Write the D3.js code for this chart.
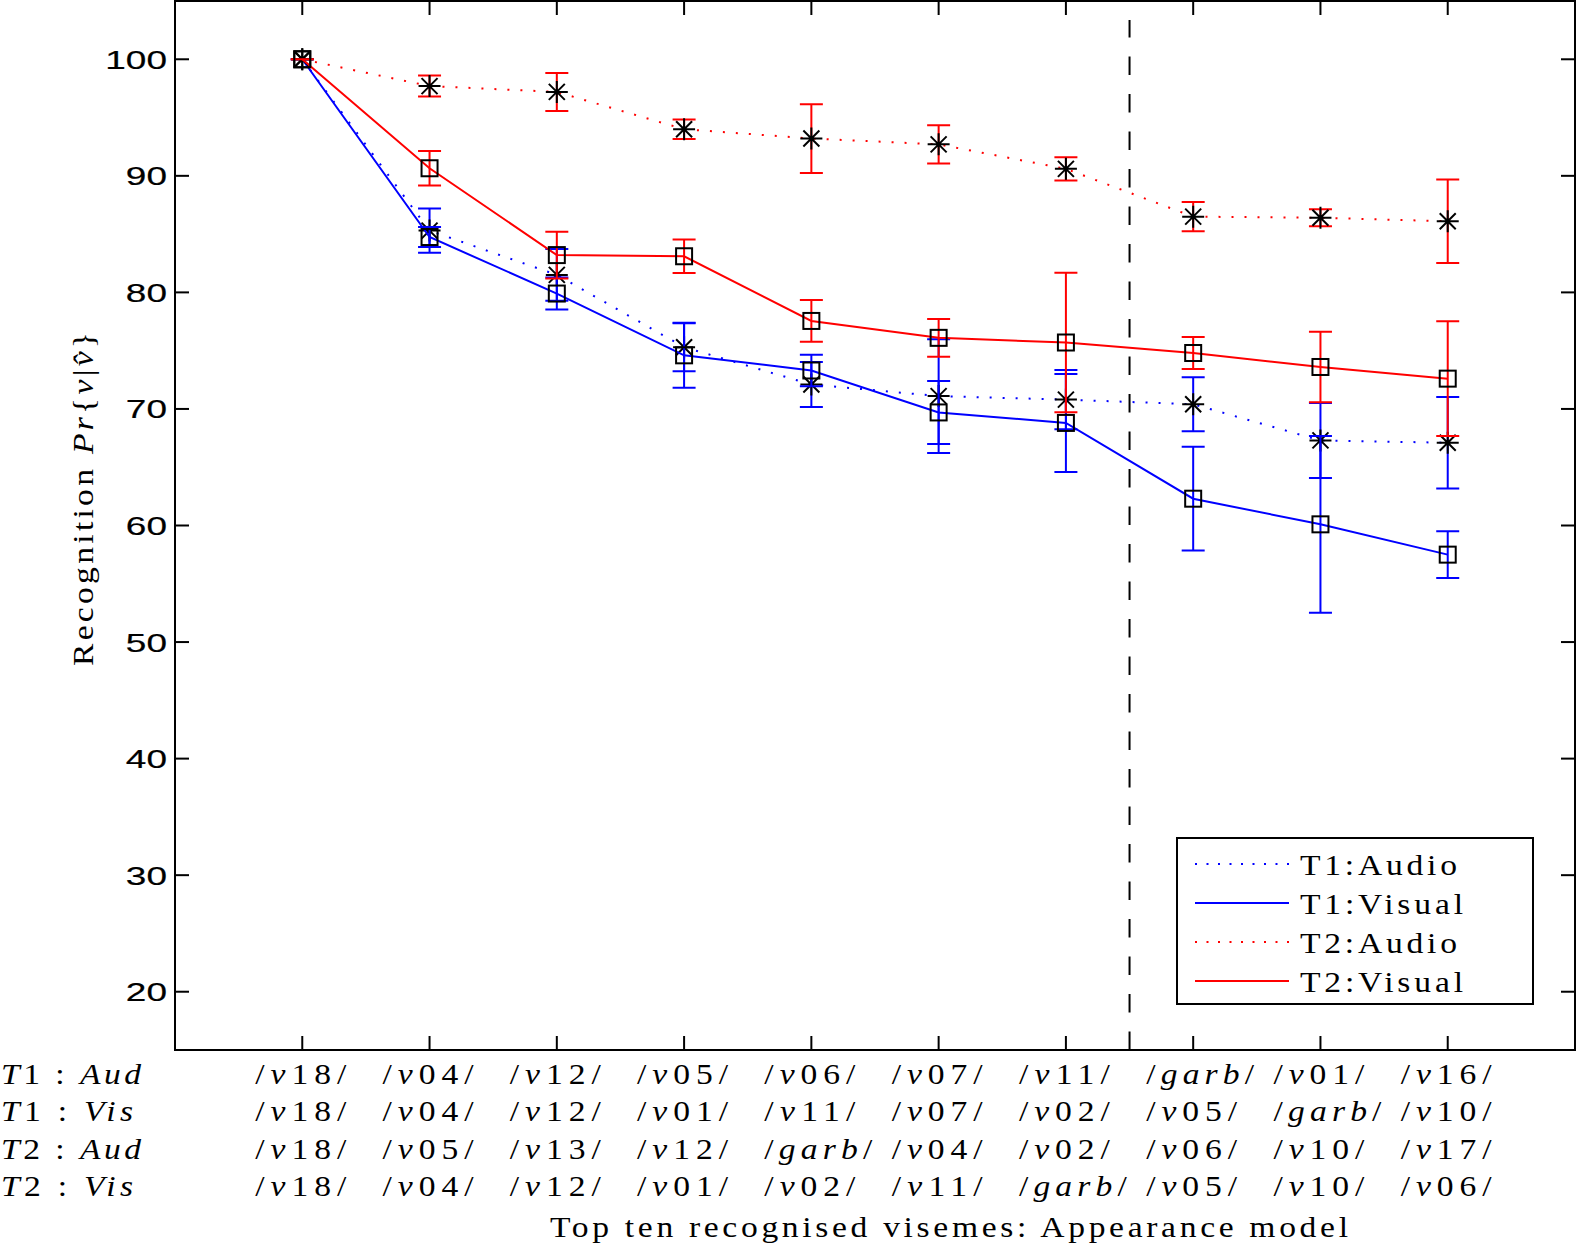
<!DOCTYPE html>
<html><head><meta charset="utf-8">
<script src="https://cdn.jsdelivr.net/npm/d3@7/dist/d3.min.js"></script>
<style>body{margin:0;background:#fff}svg{display:block}</style>
</head><body><div id="chart"></div>
<script>
const positions = [1,2,3,4,5,6,7,8,9,10];
const rowNames = ["T1 : Aud","T1 : Vis","T2 : Aud","T2 : Vis"];
const rowT1Aud = ["/v18/","/v04/","/v12/","/v05/","/v06/","/v07/","/v11/","/garb/","/v01/","/v16/"];
const rowT1Vis = ["/v18/","/v04/","/v12/","/v01/","/v11/","/v07/","/v02/","/v05/","/garb/","/v10/"];
const rowT2Aud = ["/v18/","/v05/","/v13/","/v12/","/garb/","/v04/","/v02/","/v06/","/v10/","/v17/"];
const rowT2Vis = ["/v18/","/v04/","/v12/","/v01/","/v02/","/v11/","/garb/","/v05/","/v10/","/v06/"];
const t1Audio     = [100, 85.3, 81.5, 75.3, 72.1, 71.1, 70.8, 70.4, 67.3, 67.1];
const t1AudioErr  = [0, 1.9, 2.22, 2.06, 1.93, 4.89, 2.55, 2.32, 3.22, 3.93];
const t1Visual    = [100, 84.75, 79.9, 74.6, 73.3, 69.7, 68.8, 62.3, 60.1, 57.5];
const t1VisualErr = [0, 0.86, 1.37, 2.79, 1.36, 2.7, 4.2, 4.45, 7.58, 2.0];
const t2Audio     = [100, 97.7, 97.2, 94.0, 93.2, 92.7, 90.6, 86.5, 86.4, 86.1];
const t2AudioErr  = [0, 0.9, 1.63, 0.83, 2.95, 1.64, 0.99, 1.26, 0.73, 3.58];
const t2Visual    = [100, 90.65, 83.2, 83.1, 77.55, 76.1, 75.7, 74.8, 73.6, 72.6];
const t2VisualErr = [0, 1.49, 2.0, 1.44, 1.79, 1.62, 5.99, 1.38, 3.03, 4.93];
const yTicks = [20,30,40,50,60,70,80,90,100];
const seriesNames = ["T1:Audio","T1:Visual","T2:Audio","T2:Visual"];
const dividerAt = 7.5;
const xLabel = "Top ten recognised visemes: Appearance model";

const W = 1577, H = 1245;
const L = 175, R = 1575, T = 1, B = 1050;
const svg = d3.select("#chart").append("svg").attr("width", W).attr("height", H);
const x = d3.scaleLinear().domain([0, 11]).range([L, R]);
const y = d3.scaleLinear().domain([15, 105]).range([B, T]);
const serif = "'Liberation Serif', 'DejaVu Serif', serif";
const SX = 1.12;

function serifText(parent, px, py, len, rot) {
  const tr = rot ? `translate(${px},${py}) rotate(-90) scale(${SX},1)` : `translate(${px},${py}) scale(${SX},1)`;
  return parent.append("text").attr("transform", tr)
    .attr("font-family", serif).attr("font-size", 30)
    .attr("textLength", len / SX).attr("lengthAdjust", "spacing");
}

const series = [
  {name: seriesNames[0], v: t1Audio, e: t1AudioErr, color: "#0000ff", dotted: true, marker: "star"},
  {name: seriesNames[1], v: t1Visual, e: t1VisualErr, color: "#0000ff", dotted: false, marker: "square"},
  {name: seriesNames[2], v: t2Audio, e: t2AudioErr, color: "#ff0000", dotted: true, marker: "star"},
  {name: seriesNames[3], v: t2Visual, e: t2VisualErr, color: "#ff0000", dotted: false, marker: "square"}
];

// divider
svg.append("line").attr("x1", x(dividerAt)).attr("x2", x(dividerAt))
  .attr("y1", B).attr("y2", T + 19).attr("stroke", "#000").attr("stroke-width", 2)
  .attr("stroke-dasharray", "18.5 19");

const line = d3.line().x((d, i) => x(positions[i])).y(d => y(d));
const capW = 11.5;
function drawMarker(g, type, cx, cy) {
  if (type === "square") {
    g.append("rect").attr("x", cx - 8).attr("y", cy - 8).attr("width", 16).attr("height", 16)
      .attr("fill", "none").attr("stroke", "#000").attr("stroke-width", 2);
  } else {
    const r = 11, d = 8;
    const p = `M${cx},${cy-r}L${cx},${cy+r}M${cx-r},${cy}L${cx+r},${cy}M${cx-d},${cy-d}L${cx+d},${cy+d}M${cx-d},${cy+d}L${cx+d},${cy-d}`;
    g.append("path").attr("d", p).attr("stroke", "#000").attr("stroke-width", 2).attr("fill", "none");
  }
}
series.forEach(s => {
  const g = svg.append("g");
  g.append("path").attr("d", line(s.v)).attr("fill", "none").attr("stroke", s.color)
    .attr("stroke-width", 2).attr("stroke-dasharray", s.dotted ? "2 11" : null);
  s.v.forEach((v, i) => {
    const cx = x(positions[i]), y1 = y(v + s.e[i]), y2 = y(v - s.e[i]);
    g.append("path").attr("d", `M${cx},${y1}L${cx},${y2}M${cx-capW},${y1}L${cx+capW},${y1}M${cx-capW},${y2}L${cx+capW},${y2}`)
      .attr("stroke", s.color).attr("stroke-width", 2).attr("fill", "none");
  });
  s.v.forEach((v, i) => drawMarker(g, s.marker, x(positions[i]), y(v)));
});

// axes box and ticks
const ax = svg.append("g");
ax.append("rect").attr("x", L).attr("y", T).attr("width", R - L).attr("height", B - T)
  .attr("fill", "none").attr("stroke", "#000").attr("stroke-width", 2);
const tl = 14;
yTicks.forEach(t => {
  ax.append("line").attr("x1", L).attr("x2", L + tl).attr("y1", y(t)).attr("y2", y(t)).attr("stroke", "#000").attr("stroke-width", 2);
  ax.append("line").attr("x1", R - tl).attr("x2", R).attr("y1", y(t)).attr("y2", y(t)).attr("stroke", "#000").attr("stroke-width", 2);
  ax.append("text").attr("transform", `translate(${L - 8},${y(t) + 9.5}) scale(1.45,1)`)
    .attr("text-anchor", "end").attr("font-family", "'Liberation Sans', Arial, sans-serif")
    .attr("font-size", 25.5).attr("stroke", "#000").attr("stroke-width", 0.2).text(t);
});
positions.forEach(p => {
  ax.append("line").attr("x1", x(p)).attr("x2", x(p)).attr("y1", B).attr("y2", B - tl).attr("stroke", "#000").attr("stroke-width", 2);
  ax.append("line").attr("x1", x(p)).attr("x2", x(p)).attr("y1", T).attr("y2", T + tl).attr("stroke", "#000").attr("stroke-width", 2);
});

// bottom label rows
const rows = [rowT1Aud, rowT1Vis, rowT2Aud, rowT2Vis];
const rowY = [1084, 1121, 1159, 1196];
function addMath(textSel, label) {
  const parts = label.match(/[a-z]+|[0-9]+|[^a-z0-9]+/g);
  parts.forEach(pt => {
    textSel.append("tspan").attr("font-style", /[a-z]/.test(pt) ? "italic" : "normal").text(pt);
  });
}
rows.forEach((row, ri) => {
  const t = serifText(svg, 1, rowY[ri], rowNames[ri].includes("Aud") ? 140 : 132, false);
  const nm = rowNames[ri].split(" : ");
  t.append("tspan").attr("font-style", "italic").text(nm[0][0]);
  t.append("tspan").text(nm[0].slice(1) + " : ");
  t.append("tspan").attr("font-style", "italic").text(nm[1]);
  row.forEach((lab, i) => {
    const tt = serifText(svg, x(positions[i]) - 47, rowY[ri], lab.includes("garb") ? 108 : 91, false);
    addMath(tt, lab);
  });
});
serifText(svg, 550, 1237, 798, false).text(xLabel);

// y label
const yl = serifText(svg, 93, 666, 334, true);
yl.append("tspan").text("Recognition ");
yl.append("tspan").attr("font-style", "italic").text("Pr");
yl.append("tspan").text("{");
yl.append("tspan").attr("font-style", "italic").text("v");
yl.append("tspan").text("|");
yl.append("tspan").attr("font-style", "italic").text("v\u0302");
yl.append("tspan").text("}");

// legend
const lg = svg.append("g");
lg.append("rect").attr("x", 1177).attr("y", 838).attr("width", 356).attr("height", 166)
  .attr("fill", "#fff").attr("stroke", "#000").attr("stroke-width", 2);
const legY = [864, 903, 942, 981];
series.forEach((s, i) => {
  lg.append("line").attr("x1", 1195).attr("x2", 1289).attr("y1", legY[i]).attr("y2", legY[i])
    .attr("stroke", s.color).attr("stroke-width", 2).attr("stroke-dasharray", s.dotted ? "2 9.5" : null);
  serifText(lg, 1300, legY[i] + 10.5, s.name.includes("Audio") ? 157 : 163, false).text(s.name);
});
</script></body></html>
